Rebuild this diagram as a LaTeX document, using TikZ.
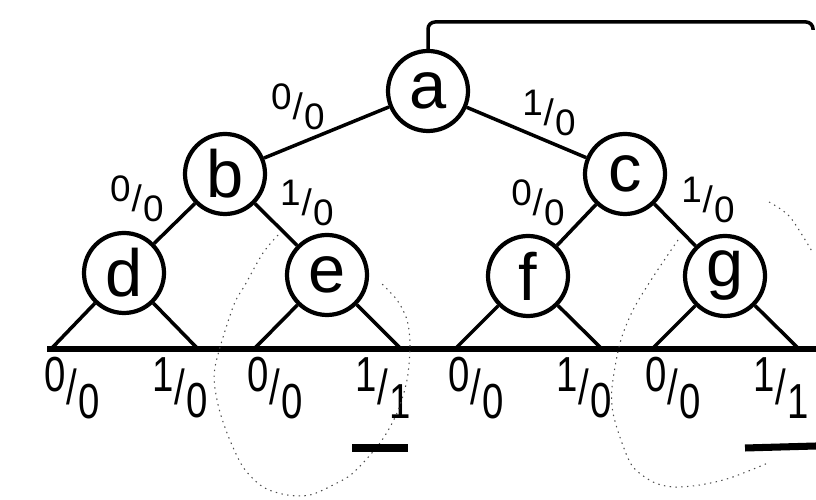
\documentclass[tikz,border=0pt]{standalone}
\usepackage{fontspec}
\setmainfont{Liberation Sans}
\usepackage{graphicx}
\usetikzlibrary{positioning,calc}

% input/output pair, written as a slanted fraction
\newcommand{\io}[2]{\raisebox{0.27em}{#1}\kern0.02em/\kern0.04em\raisebox{-0.27em}{#2}}
\newcommand{\leafio}[2]{\scalebox{0.78}[1]{\io{#1}{#2}}}

\begin{document}
\begin{tikzpicture}[
  state/.style={circle, draw, line width=2.4pt, minimum size=1.6cm, inner sep=0pt,
    font=\fontsize{38}{38}\selectfont},
  branch/.style={line width=2pt},
  edgelab/.style={inner sep=0pt, font=\fontsize{21}{21}\selectfont},
  leaflab/.style={inner sep=0pt, font=\fontsize{28}{28}\selectfont},
  trace/.style={line width=0.6pt, black!70, dash pattern=on 0.8pt off 2.5pt}
]
\useasboundingbox (0,0) rectangle (16.32,10);

\node[state] (a) at (8.56,8.18) {a};
\node[state] (b) at (4.50,6.52) {b};
\node[state] (c) at (12.50,6.52) {c};
\node[state] (d) at (2.48,4.54) {d};
\node[state] (e) at (6.54,4.50) {e};
\node[state] (f) at (10.56,4.48) {f};
\node[state] (g) at (14.50,4.48) {g};

\draw[branch] (a) -- (b);
\draw[branch] (a) -- (c);
\draw[branch] (b) -- (d);
\draw[branch] (b) -- (e);
\draw[branch] (c) -- (f);
\draw[branch] (c) -- (g);

\node[edgelab] (ab) at (5.96,7.86) {\io00};
\node[edgelab] (ac) at (10.98,7.74) {\io10};
\node[edgelab] (bd) at (2.74,6.02) {\io00};
\node[edgelab] (be) at (6.14,5.94) {\io10};
\node[edgelab] (cf) at (10.76,5.94) {\io00};
\node[edgelab] (cg) at (14.16,6.00) {\io10};

% loop back to the root
\coordinate (top) at (16.26,9.56);
\draw[branch, rounded corners=4pt] (a.north) |- (top) -- ++(0,-0.16);

% base line
\coordinate (base) at (0.94,3.02);
\coordinate (baseR) at (16.32,3.02);
\draw[line width=3.4pt] (base) -- (baseR);

\foreach \n/\r in {d/0, e/1, f/0, g/1}{
\draw[branch] (\n) -- ($(\n |- base)+(-1.46,0)$);
\draw[branch] (\n) -- ($(\n |- base)+(1.48,0)$);
\node[leaflab] (\n0) at ($(\n |- base)+(-1.03,-0.78)$) {\leafio00};
\node[leaflab] (\n1) at ($(\n |- base)+(1.12,-0.78)$) {\leafio1\r};
}

% pencil traces
\draw[trace] plot[smooth] coordinates {(5.56,5.30) (5.26,4.94) (4.90,4.30) (4.66,3.86)
  (4.30,2.66) (4.34,2.00) (4.54,1.34) (4.86,0.66) (5.26,0.26) (5.74,0.10) (6.20,0.10)
  (6.66,0.30) (7.06,0.54) (7.60,1.14) (7.94,1.74) (8.14,2.40) (8.20,3.10) (8.14,3.60)
  (7.94,4.00) (7.60,4.36)};
\draw[trace] plot[smooth] coordinates {(13.56,5.20) (13.06,4.46) (12.66,3.80) (12.40,3.14)
  (12.24,2.26) (12.26,1.74) (12.44,1.14) (12.66,0.66) (13.06,0.36) (13.46,0.26)
  (14.00,0.30) (14.60,0.44) (15.36,0.74)};
\draw[trace] plot[smooth] coordinates {(15.38,5.96) (15.80,5.66) (16.26,4.94)};

\draw[line width=4pt] (7.04,1.04) -- (8.16,1.04);
\draw[line width=4pt] (14.90,1.04) -- (16.32,1.08);
\end{tikzpicture}
\end{document}
